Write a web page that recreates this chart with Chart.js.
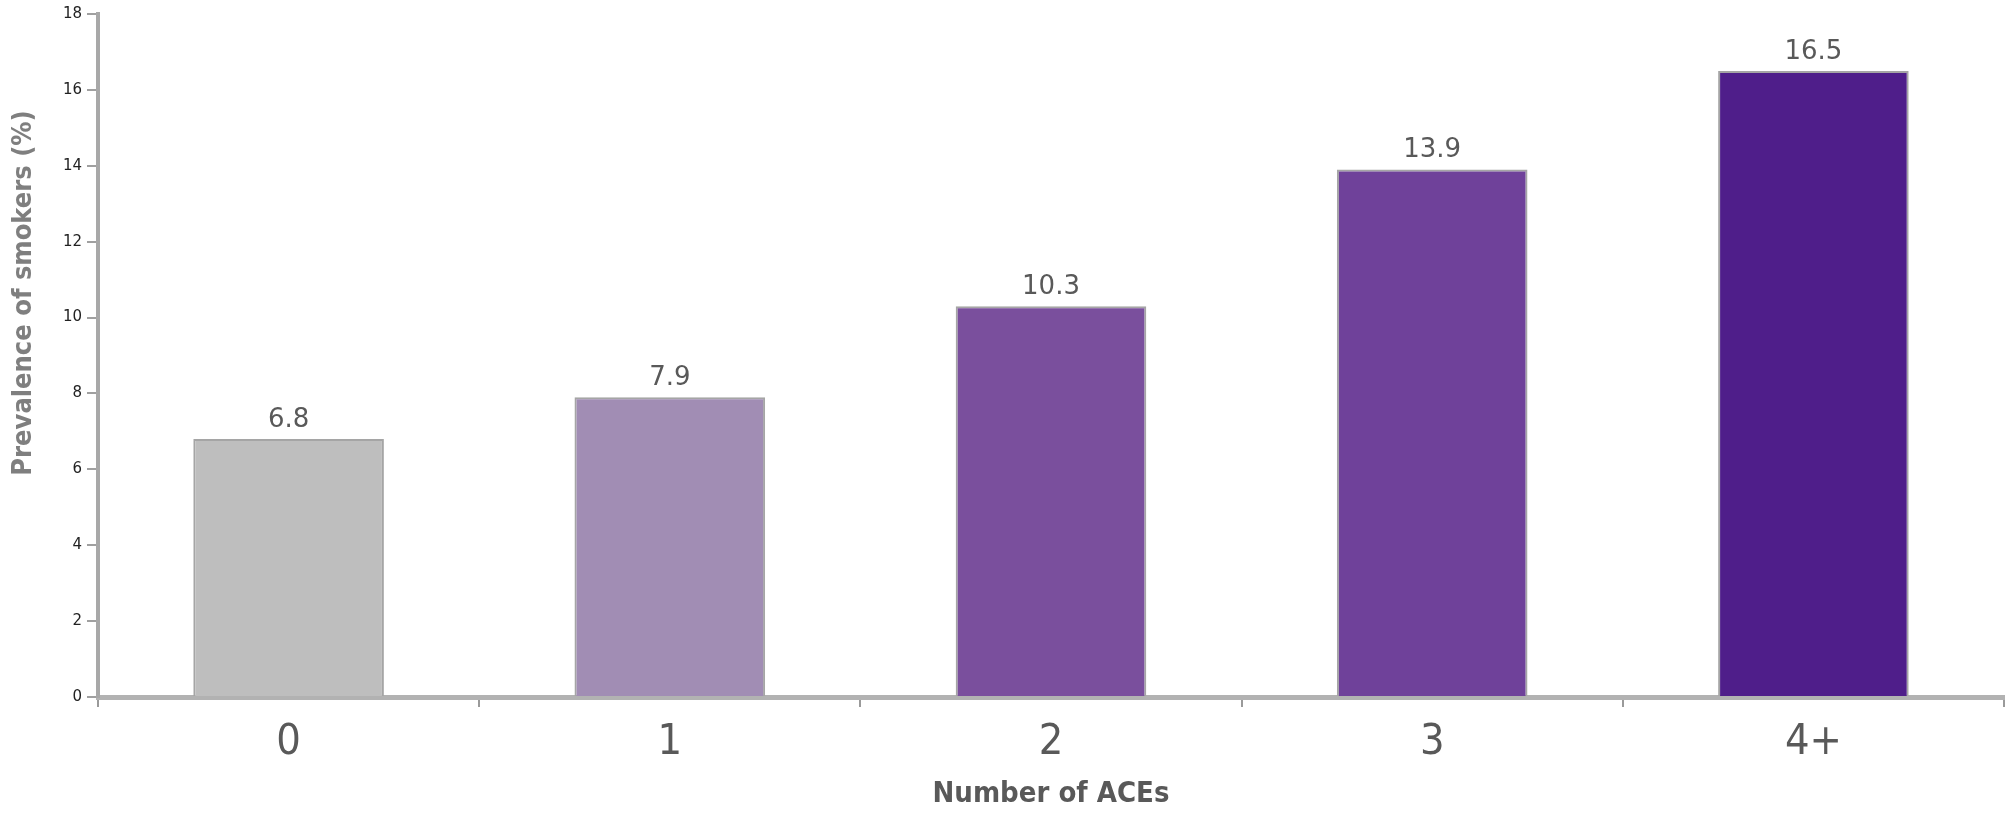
<!DOCTYPE html>
<html>
<head>
<meta charset="utf-8">
<script src="https://cdn.jsdelivr.net/npm/chart.js@4"></script>
<style>
  html, body { margin: 0; padding: 0; background: #ffffff; }
  #wrap { width: 2008px; height: 814px; }
</style>
</head>
<body>
<div id="wrap"><canvas id="myChart" width="2008" height="814"></canvas></div>
<script>
// data
const categories = ['0', '1', '2', '3', '4+'];
const prevalence = [6.8, 7.9, 10.3, 13.9, 16.5];
const yTicks = [0, 2, 4, 6, 8, 10, 12, 14, 16, 18];

const barColors = ['#bebebe', '#a18db4', '#7a4f9d', '#6f419a', '#4f1e8a'];
const textGray = '#595959';
const narrow = '"Liberation Sans Narrow", "DejaVu Sans Condensed", sans-serif';

// value labels above each bar
const barLabels = {
  id: 'barLabels',
  afterDatasetsDraw(chart) {
    const ctx = chart.ctx;
    const meta = chart.getDatasetMeta(0);
    ctx.save();
    ctx.font = '26px "DejaVu Sans", sans-serif';
    ctx.fillStyle = textGray;
    ctx.textAlign = 'center';
    ctx.textBaseline = 'bottom';
    meta.data.forEach((bar, i) => {
      ctx.fillText(prevalence[i].toFixed(1), bar.x, bar.y - 6);
    });
    ctx.restore();
  }
};

// y title sits a bit above the middle of the axis in the original
const yTitle = {
  id: 'yTitle',
  afterDraw(chart) {
    const ctx = chart.ctx;
    ctx.save();
    ctx.translate(24, 293);
    ctx.rotate(-Math.PI / 2);
    ctx.font = 'bold 27px ' + narrow;
    ctx.fillStyle = '#7f7f7f';
    ctx.textAlign = 'center';
    ctx.textBaseline = 'middle';
    ctx.fillText('Prevalence of smokers (%)', 0, 0);
    ctx.restore();
  }
};

const ctx = document.getElementById('myChart').getContext('2d');
new Chart(ctx, {
  type: 'bar',
  data: {
    labels: categories,
    datasets: [{
      data: prevalence,
      backgroundColor: barColors,
      borderColor: '#a5a5a5',
      borderWidth: 2,
      barPercentage: 0.5,
      categoryPercentage: 1.0
    }]
  },
  options: {
    responsive: false,
    animation: false,
    layout: { padding: { top: 9, right: 4, left: 0, bottom: 0 } },
    plugins: {
      legend: { display: false },
      tooltip: { enabled: false }
    },
    scales: {
      x: {
        grid: {
          offset: true,
          drawOnChartArea: false,
          drawTicks: true,
          tickLength: 10,
          color: '#9a9a9a',
          lineWidth: 2
        },
        border: { display: true, color: '#b2b2b2', width: 5 },
        ticks: {
          color: textGray,
          font: { family: narrow, size: 43 },
          padding: 10
        },
        title: {
          display: true,
          text: 'Number of ACEs',
          color: textGray,
          font: { family: narrow, size: 29, weight: 'bold' },
          padding: { top: 6, bottom: 2 }
        },
        afterFit(scale) { scale.height = 117; }
      },
      y: {
        min: 0,
        max: 18,
        afterBuildTicks(scale) { scale.ticks = yTicks.map(v => ({ value: v })); },
        grid: {
          drawOnChartArea: false,
          drawTicks: true,
          tickLength: 11,
          color: '#a0a0a0',
          lineWidth: 2
        },
        border: { display: true, color: '#a8a8a8', width: 4 },
        ticks: {
          color: '#222222',
          font: { family: '"DejaVu Sans", sans-serif', size: 15 },
          padding: 5
        },
        afterFit(scale) { scale.width = 98; }
      }
    }
  },
  plugins: [barLabels, yTitle]
});
</script>
</body>
</html>
